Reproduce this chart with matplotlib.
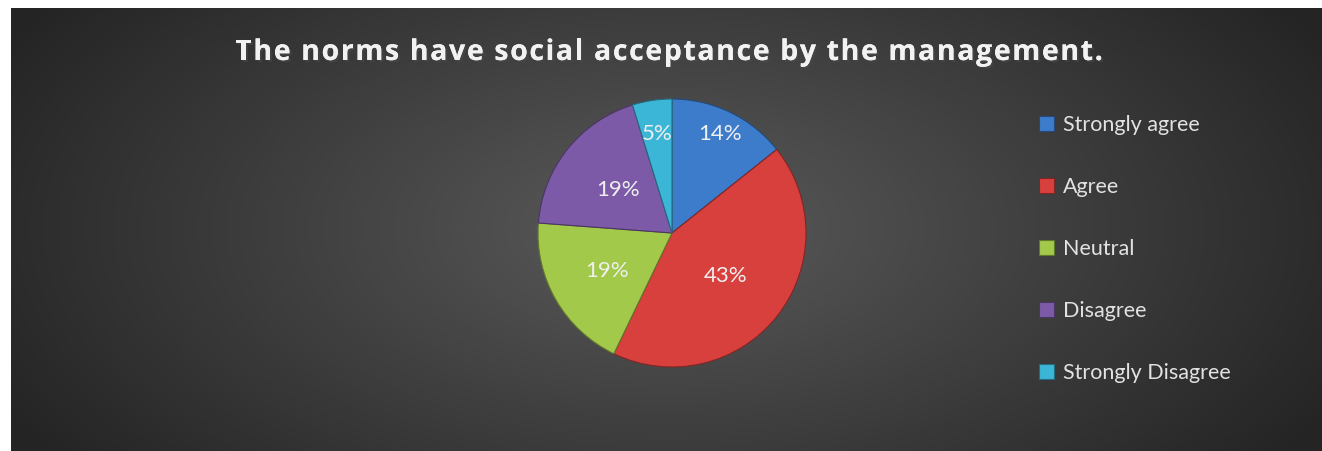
import numpy as np
import matplotlib
matplotlib.use("Agg")
import matplotlib.pyplot as plt
import matplotlib.patheffects as pe
from matplotlib.colors import to_rgb

# survey answers (respondent counts)
categories = ["Strongly agree", "Agree", "Neutral", "Disagree", "Strongly Disagree"]
counts = [3, 9, 4, 4, 1]
colors = ["#3d7ccb", "#d8403d", "#a3c94b", "#7c5aa8", "#3cb6d6"]
title = "The norms have social acceptance by the management."

W, H = 1322, 451
fig = plt.figure(figsize=(W / 100, H / 100), dpi=100)
fig.patch.set_facecolor("white")

# dark panel with a soft radial glow in the middle
bg = fig.add_axes([11 / W, 0, (W - 11) / W, (H - 8) / H])
bg.set_axis_off()
yy, xx = np.mgrid[0:443, 0:1311]
r = np.sqrt(((xx - 655) / 820.0) ** 2 + ((yy - 220) / 420.0) ** 2)
shade = np.clip(0.355 - 0.23 * r, 0.145, 0.36)
bg.imshow(np.dstack([shade] * 3), aspect="auto", extent=[0, 1, 0, 1])

# title with extra letter spacing, drawn one glyph at a time
renderer = fig.canvas.get_renderer()
tkw = dict(fontsize=20.5, fontweight="bold", family="Open Sans", color="#f2f2f2",
           va="baseline", ha="left",
           path_effects=[pe.withSimplePatchShadow(offset=(1.5, -1.5), alpha=0.6),
                         pe.Normal()])
spacing = 1.6
space_w = fig.text(0, 0, "a a", **tkw)
w_aa = space_w.get_window_extent(renderer).width
space_w.set_text("aa")
w_space = w_aa - space_w.get_window_extent(renderer).width
space_w.remove()
widths = []
for ch in title:
    if ch == " ":
        widths.append(w_space)
        continue
    t = fig.text(0, 0, ch, **tkw)
    widths.append(t.get_window_extent(renderer).width)
    t.remove()
total = sum(widths) + spacing * (len(title) - 1)
x = 669 - total / 2
for ch, w in zip(title, widths):
    if ch != " ":
        fig.text(x / W, 1 - 60 / H, ch, **tkw)
    x += w + spacing

# pie axes: centre (672, 233) px, radius 134 px
cx, cy, rad = 672, 233, 134
ax = fig.add_axes([(cx - rad) / W, 1 - (cy + rad) / H, 2 * rad / W, 2 * rad / H])
ax.set_axis_off()
edge = [tuple(c * 0.6 for c in to_rgb(col)) for col in colors]
wedges, _, autotexts = ax.pie(counts, colors=colors, startangle=90, counterclock=False,
                              radius=1, autopct="%.0f%%",
                              wedgeprops=dict(linewidth=0.8),
                              textprops=dict(color="#efefef", fontsize=16, family="Lato"))
for w, ec in zip(wedges, edge):
    w.set_edgecolor(ec)
ax.set_xlim(-1, 1)
ax.set_ylim(-1, 1)

# label distances per wedge
label_dist = [0.82, 0.51, 0.56, 0.52, 0.75]
for w, t, d in zip(wedges, autotexts, label_dist):
    ang = np.deg2rad((w.theta1 + w.theta2) / 2)
    t.set_position((d * np.cos(ang), d * np.sin(ang)))

leg = fig.legend(wedges, categories, loc="upper left",
                 bbox_to_anchor=(1020 / W, 1 - 96 / H), frameon=False,
                 prop=dict(family="Lato", size=15.5), labelcolor="#e2e2e2",
                 handlelength=0.7, handleheight=0.7, handletextpad=0.4,
                 labelspacing=1.95)

fig.savefig("out.png", dpi=100, facecolor=fig.get_facecolor())
